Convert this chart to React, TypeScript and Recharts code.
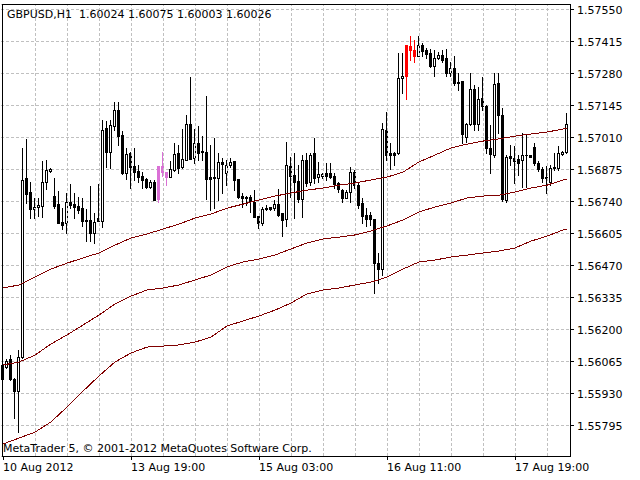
import React from "react";
import { ComposedChart, Bar, Line, XAxis, YAxis, CartesianGrid, ReferenceLine } from "recharts";

// GBPUSD H1 bars (oldest first)
const opens = [
  1.56052, 1.56044, 1.56077, 1.55993, 1.55942, 1.56086, 1.56841, 1.56782, 1.5671, 1.56719,
  1.56723, 1.56824, 1.56871, 1.56765, 1.56731, 1.56655, 1.56651, 1.5674, 1.56731, 1.56723,
  1.56714, 1.56664, 1.56664, 1.56609, 1.56672, 1.5666, 1.57052, 1.56951, 1.5706, 1.57128,
  1.57022, 1.56862, 1.56946, 1.56892, 1.56871, 1.5685, 1.56837, 1.56803, 1.56824, 1.56753,
  1.56892, 1.56866, 1.56845, 1.56875, 1.56946, 1.56888, 1.56917, 1.57069, 1.56925, 1.56989,
  1.56955, 1.56951, 1.56845, 1.56845, 1.56841, 1.56909, 1.56862, 1.56896, 1.56913, 1.56837,
  1.56765, 1.56761, 1.56761, 1.5674, 1.56681, 1.56651, 1.56714, 1.56719, 1.56714, 1.56731,
  1.56693, 1.56668, 1.56892, 1.56854, 1.56828, 1.56753, 1.56917, 1.56824, 1.56946, 1.56845,
  1.5685, 1.56862, 1.56862, 1.5685, 1.5682, 1.5679, 1.56757, 1.56782, 1.56866, 1.56811,
  1.56736, 1.56685, 1.56685, 1.56668, 1.56482, 1.56457, 1.57044, 1.56946, 1.56946, 1.56946,
  1.57263, 1.57271, 1.57398, 1.57381, 1.57356, 1.57402, 1.57381, 1.57368, 1.57314, 1.57347,
  1.5736, 1.57347, 1.57284, 1.57305, 1.57246, 1.5725, 1.57014, 1.57069, 1.57216, 1.57069,
  1.57179, 1.57145, 1.56968, 1.56938, 1.57242, 1.57107, 1.56748, 1.56934, 1.56925, 1.56921,
  1.56917, 1.56938, 1.56938, 1.56972, 1.56904, 1.56879, 1.56845, 1.56824, 1.56883, 1.56883,
  1.56942, 1.56951,
];
const highs = [
  1.56073, 1.56077, 1.56094, 1.55997, 1.56115, 1.56968, 1.57006, 1.56824, 1.56757, 1.56757,
  1.56913, 1.56917, 1.56883, 1.56841, 1.56786, 1.56714, 1.56778, 1.56816, 1.56778, 1.56761,
  1.56757, 1.5671, 1.56807, 1.56693, 1.56816, 1.57086, 1.57081, 1.57086, 1.57162, 1.57162,
  1.57039, 1.56968, 1.56951, 1.56968, 1.56896, 1.56866, 1.56841, 1.56833, 1.56833, 1.56892,
  1.56951, 1.56866, 1.56913, 1.56989, 1.5698, 1.57048, 1.57107, 1.57267, 1.57048, 1.5706,
  1.57018, 1.57187, 1.5698, 1.5701, 1.56946, 1.56925, 1.56917, 1.56925, 1.56913, 1.56837,
  1.56778, 1.56765, 1.56769, 1.5679, 1.56681, 1.56719, 1.56727, 1.56719, 1.56748, 1.56795,
  1.56693, 1.56993, 1.5693, 1.56946, 1.56896, 1.56938, 1.56946, 1.56946, 1.5701, 1.56909,
  1.56862, 1.56904, 1.56904, 1.56862, 1.56824, 1.56795, 1.5679, 1.56888, 1.56875, 1.56824,
  1.56757, 1.56714, 1.56698, 1.56668, 1.56525, 1.57073, 1.5712, 1.56989, 1.56951, 1.57368,
  1.57368, 1.57402, 1.5744, 1.57423, 1.5744, 1.57411, 1.5739, 1.57385, 1.57381, 1.57373,
  1.57381, 1.57385, 1.5733, 1.57356, 1.57284, 1.5725, 1.57073, 1.57284, 1.57233, 1.57225,
  1.57267, 1.57149, 1.57065, 1.57284, 1.57284, 1.57136, 1.56938, 1.5698, 1.56976, 1.56938,
  1.57031, 1.57027, 1.56938, 1.56989, 1.56913, 1.56888, 1.56892, 1.56896, 1.56946, 1.56976,
  1.56955, 1.57115,
];
const lows = [
  1.55989, 1.56039, 1.55989, 1.55829, 1.55769, 1.56082, 1.56736, 1.56672, 1.56672, 1.56681,
  1.56676, 1.56795, 1.56866, 1.56714, 1.56651, 1.56626, 1.56609, 1.56714, 1.56672, 1.56693,
  1.56639, 1.56575, 1.56575, 1.56567, 1.5666, 1.56634, 1.56888, 1.56883, 1.57044, 1.5698,
  1.56858, 1.56837, 1.56799, 1.56833, 1.56824, 1.56799, 1.56799, 1.56799, 1.56748, 1.5674,
  1.5685, 1.56811, 1.56845, 1.56871, 1.56862, 1.56883, 1.56917, 1.56921, 1.56904, 1.56917,
  1.56917, 1.56753, 1.56706, 1.56714, 1.56748, 1.56778, 1.56811, 1.56888, 1.5679, 1.56757,
  1.56719, 1.56727, 1.56698, 1.56676, 1.5663, 1.56643, 1.56706, 1.56706, 1.56706, 1.56681,
  1.56596, 1.56639, 1.56761, 1.56672, 1.5674, 1.56676, 1.56807, 1.56811, 1.5682, 1.56824,
  1.56841, 1.56833, 1.56841, 1.56799, 1.56782, 1.5674, 1.56757, 1.5674, 1.56799, 1.56714,
  1.56651, 1.56639, 1.56643, 1.56356, 1.56398, 1.56432, 1.56917, 1.56879, 1.56896, 1.56942,
  1.572, 1.57174, 1.57339, 1.5733, 1.57356, 1.57356, 1.57347, 1.57309, 1.57271, 1.57343,
  1.5733, 1.57271, 1.57271, 1.57233, 1.57212, 1.56989, 1.56993, 1.57065, 1.57044, 1.57044,
  1.57128, 1.56946, 1.56862, 1.5693, 1.57031, 1.56744, 1.5674, 1.56896, 1.5682, 1.56854,
  1.56803, 1.56803, 1.5693, 1.56896, 1.56871, 1.56824, 1.56778, 1.56811, 1.56875, 1.56875,
  1.56938, 1.56946,
];
const closes = [
  1.55993, 1.56069, 1.55993, 1.55942, 1.56086, 1.56833, 1.56774, 1.5671, 1.56719, 1.56727,
  1.56824, 1.56875, 1.56879, 1.56723, 1.56651, 1.56643, 1.5674, 1.56727, 1.56719, 1.56706,
  1.5666, 1.5666, 1.56609, 1.56655, 1.5666, 1.57044, 1.56951, 1.57065, 1.57128, 1.57018,
  1.56862, 1.56942, 1.56888, 1.56866, 1.56845, 1.56833, 1.56803, 1.56824, 1.56748, 1.56892,
  1.56866, 1.56845, 1.56879, 1.56942, 1.56883, 1.56921, 1.57069, 1.56921, 1.56989, 1.56946,
  1.56951, 1.56837, 1.56837, 1.56841, 1.56909, 1.569, 1.56896, 1.56909, 1.56833, 1.56761,
  1.56757, 1.56757, 1.56744, 1.56676, 1.56651, 1.5671, 1.5671, 1.5671, 1.56731, 1.56685,
  1.56664, 1.56896, 1.5685, 1.56824, 1.56753, 1.56917, 1.5682, 1.56938, 1.56841, 1.56858,
  1.56858, 1.5685, 1.56845, 1.56816, 1.56795, 1.56757, 1.56782, 1.56866, 1.56811, 1.56727,
  1.56681, 1.56668, 1.56668, 1.56482, 1.56457, 1.57048, 1.56938, 1.56938, 1.56938, 1.57263,
  1.57271, 1.57402, 1.57381, 1.57356, 1.57402, 1.57377, 1.57364, 1.57314, 1.57347, 1.5736,
  1.57339, 1.57284, 1.57305, 1.57242, 1.57242, 1.57027, 1.57069, 1.57216, 1.57069, 1.57174,
  1.57145, 1.56968, 1.56942, 1.57238, 1.57107, 1.56753, 1.5693, 1.56925, 1.56913, 1.56904,
  1.56938, 1.56938, 1.5693, 1.56904, 1.56879, 1.56841, 1.56841, 1.56883, 1.56888, 1.56946,
  1.56951, 1.57069,
];

// bars drawn in highlight colours
const pinkBars = [39, 40, 41];
const redBars = [101, 102, 103];

// moving averages, read every 4th bar
const maBars = [
  0, 4, 8, 12, 16, 20, 24, 28, 32, 36, 40, 44, 48, 52, 56, 60, 64, 68, 72, 76,
  80, 84, 88, 92, 96, 100, 104, 108, 112, 116, 120, 124, 128, 132, 136, 140, 141,
];
const maUpper = [
  1.56377, 1.5639, 1.56423, 1.56457, 1.56482, 1.56504, 1.56525, 1.56558, 1.56588, 1.56605,
  1.56626, 1.56647, 1.56672, 1.56689, 1.56714, 1.56731, 1.56748, 1.56765, 1.56778, 1.5679,
  1.56799, 1.56811, 1.5682, 1.56833, 1.56845, 1.56866, 1.56909, 1.56938, 1.56968, 1.56984,
  1.56997, 1.57006, 1.57018, 1.57027, 1.57035, 1.57048, 1.57048,
];
const maMiddle = [
  1.56052, 1.56065, 1.56094, 1.56141, 1.56179, 1.56221, 1.56263, 1.5631, 1.56343, 1.56369,
  1.56377, 1.5639, 1.56411, 1.56432, 1.56466, 1.56487, 1.56499, 1.56516, 1.56542, 1.56567,
  1.56584, 1.56592, 1.56601, 1.56618, 1.56639, 1.56664, 1.56698, 1.56719, 1.56736, 1.56757,
  1.56765, 1.56769, 1.56782, 1.56799, 1.56811, 1.56833, 1.56837,
];
const maLower = [
  1.55719, 1.55744, 1.55769, 1.55812, 1.55875, 1.55942, 1.56006, 1.56065, 1.56103, 1.56128,
  1.56132, 1.56137, 1.56149, 1.5617, 1.56217, 1.56238, 1.56259, 1.56284, 1.56314, 1.56352,
  1.56369, 1.56377, 1.5639, 1.56402, 1.56423, 1.56457, 1.56487, 1.56495, 1.56508, 1.56516,
  1.56525, 1.56533, 1.56546, 1.56575, 1.56596, 1.56622, 1.56626,
];

const priceTicks = [
  1.55795, 1.5593, 1.56065, 1.562, 1.56335, 1.5647, 1.56605, 1.5674, 1.56875, 1.5701,
  1.57145, 1.5728, 1.57415, 1.5755,
];
const timeTickBars = [0, 32, 64, 96, 128];
const timeTickLabels = ["10 Aug 2012", "13 Aug 19:00", "15 Aug 03:00", "16 Aug 11:00", "17 Aug 19:00"];
const gridBars = [8, 16, 24, 32, 40, 48, 56, 64, 72, 80, 88, 96, 104, 112, 120, 128, 136];

const data = opens.map((open, i) => {
  const k = maBars.indexOf(i);
  return {
    i,
    open,
    high: highs[i],
    low: lows[i],
    close: closes[i],
    upper: k >= 0 ? maUpper[k] : null,
    middle: k >= 0 ? maMiddle[k] : null,
    lower: k >= 0 ? maLower[k] : null,
  };
});

const GRID = "#c0c0c0";
const MA_COLOR = "#800000";

const Candle = (props: any) => {
  const { x, y, width, height, payload } = props;
  if (x == null || y == null || !payload) return null;
  const { open, high, low, close, i } = payload;
  const top = Math.min(y, y + height);
  const h = Math.abs(height);
  const toPx = (v: number) => top + ((high - v) / (high - low || 1)) * h;
  const cx = Math.floor(x + width / 2 + 0.01) + 0.5;

  let color = "#000000";
  if (pinkBars.includes(i)) color = "#da70d6";
  if (redBars.includes(i)) color = "#ff0000";
  const plain = color === "#000000";
  const fill = plain ? (close > open ? "#ffffff" : "#000000") : color;

  const wickTop = Math.round(top);
  const wickBottom = Math.round(top + h);
  const bodyTop = Math.round(toPx(Math.max(open, close)));
  const bodyBottom = Math.round(toPx(Math.min(open, close)));

  return (
    <g>
      <line x1={cx} x2={cx} y1={wickTop} y2={wickBottom + 1} stroke={color} strokeWidth={1} />
      {bodyBottom > bodyTop ? (
        <rect x={cx - 1} y={bodyTop + 0.5} width={2} height={bodyBottom - bodyTop} fill={fill} stroke={color} strokeWidth={1} />
      ) : (
        <line x1={cx - 1.5} x2={cx + 1.5} y1={bodyTop + 0.5} y2={bodyTop + 0.5} stroke={color} strokeWidth={1} />
      )}
    </g>
  );
};

const TimeTick = (props: any) => {
  const { x, y, payload } = props;
  const k = timeTickBars.indexOf(payload.value);
  return (
    <text x={x} y={y} dy="0.71em" textAnchor="start" fontSize={11} fill="#000">
      {k >= 0 ? timeTickLabels[k] : ""}
    </text>
  );
};

export default function App() {
  return (
    <div style={{ position: "relative", width: 640, height: 480, background: "#fff", fontFamily: '"DejaVu Sans", sans-serif' }}>
      <style>{`body{margin:0} .recharts-surface{shape-rendering:crispEdges}`}</style>
      <ComposedChart width={640} height={480} data={data} margin={{ top: 4, right: 0, bottom: 0, left: 1 }}>
        <CartesianGrid vertical={false} stroke={GRID} strokeDasharray="3 2" />
        {gridBars.map((b) => (
          <ReferenceLine key={b} x={b} stroke={GRID} strokeDasharray="3 2" />
        ))}
        <XAxis
          dataKey="i"
          type="category"
          ticks={timeTickBars}
          interval={0}
          padding={{ left: 0, right: 1 }}
          height={24}
          tickSize={4}
          tickMargin={3}
          axisLine={false}
          tickLine={{ stroke: "#000" }}
          tick={<TimeTick />}
        />
        <YAxis
          orientation="right"
          width={70}
          domain={[1.556684, 1.575753]}
          allowDataOverflow
          ticks={priceTicks}
          interval={0}
          tickFormatter={(v: number) => v.toFixed(5)}
          tickSize={4}
          tickMargin={3}
          axisLine={false}
          tickLine={{ stroke: "#000" }}
          tick={{ fontSize: 11, fill: "#000" }}
        />
        <Bar dataKey={(d: any) => [d.low, d.high]} shape={<Candle />} isAnimationActive={false} />
        <Line dataKey="upper" type="linear" stroke={MA_COLOR} strokeWidth={1} dot={false} connectNulls isAnimationActive={false} />
        <Line dataKey="middle" type="linear" stroke={MA_COLOR} strokeWidth={1} dot={false} connectNulls isAnimationActive={false} />
        <Line dataKey="lower" type="linear" stroke={MA_COLOR} strokeWidth={1} dot={false} connectNulls isAnimationActive={false} />
      </ComposedChart>
      <div style={{ position: "absolute", left: 2, top: 4, width: 569, height: 453, boxSizing: "border-box", border: "1px solid #000", pointerEvents: "none" }} />
      <div style={{ position: "absolute", left: 7, top: 8, fontSize: 11, lineHeight: "13px", color: "#000", whiteSpace: "pre" }}>
        GBPUSD,H1  1.60024 1.60075 1.60003 1.60026
      </div>
      <div style={{ position: "absolute", left: 3, top: 442, fontSize: 11, lineHeight: "13px", color: "#000", whiteSpace: "pre" }}>
        MetaTrader 5, © 2001-2012 MetaQuotes Software Corp.
      </div>
    </div>
  );
}
